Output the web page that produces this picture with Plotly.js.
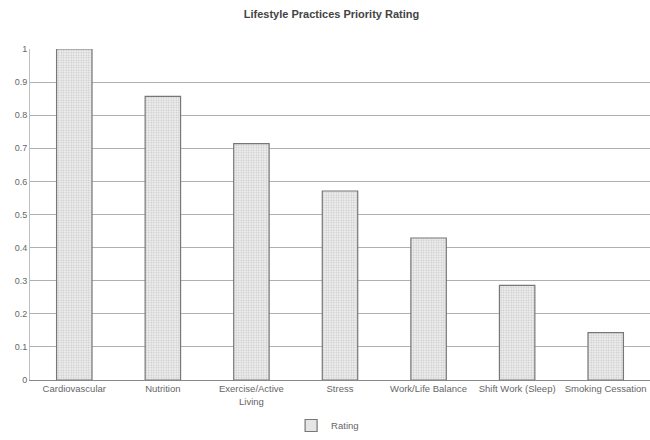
<!DOCTYPE html>
<html><head><meta charset="utf-8">
<script src="https://cdn.plot.ly/plotly-3.0.1.min.js"></script>
<style>html,body{margin:0;padding:0;background:#fff}</style>
</head><body>
<div id="chart" style="width:650px;height:440px"></div>
<script>
const categories = ["Cardiovascular","Nutrition","Exercise/Active<br>Living","Stress","Work/Life Balance","Shift Work (Sleep)","Smoking Cessation"];
const ratings = [1.0, 0.857, 0.714, 0.571, 0.429, 0.286, 0.143];
const yTicks = [0,0.1,0.2,0.3,0.4,0.5,0.6,0.7,0.8,0.9,1];
const yTickText = ["0","0.1","0.2","0.3","0.4","0.5","0.6","0.7","0.8","0.9","1"];

const trace = {
  type: "bar",
  name: "Rating",
  x: categories,
  y: ratings,
  width: 0.4,
  marker: {
    color: "#ececec",
    line: {color: "#777", width: 1.2},
    pattern: {shape: ".", fgcolor: "#c4c4c4", bgcolor: "#efefef", size: 2.5, solidity: 0.3, fillmode: "replace"}
  },
  hoverinfo: "none"
};

const layout = {
  width: 650, height: 440,
  margin: {l: 30, r: 0, t: 49, b: 59},
  paper_bgcolor: "#fff", plot_bgcolor: "#fff",
  font: {family: "Liberation Sans, Arial, sans-serif", color: "#666", size: 9},
  title: {text: "Lifestyle Practices Priority Rating", x: 0.51, xanchor: "center", y: 0.967, yanchor: "middle",
          font: {size: 11, color: "#444", family: "Liberation Sans, Arial, sans-serif", weight: "bold"}},
  xaxis: {
    type: "category", showgrid: false, zeroline: false,
    showline: true, linecolor: "#888", linewidth: 1,
    ticks: "", tickfont: {size: 9.5, color: "#666"}, tickangle: 0, automargin: false
  },
  yaxis: {
    range: [0, 1], tickvals: yTicks, ticktext: yTickText,
    showgrid: true, gridcolor: "#b0b0b0", gridwidth: 1,
    zeroline: false, showline: true, linecolor: "#c0c0c0", linewidth: 1,
    ticks: "", tickfont: {size: 9, color: "#666"}, automargin: false
  },
  showlegend: true,
  legend: {orientation: "h", x: 0.48, xanchor: "center", y: -0.095, yanchor: "top",
           font: {size: 9.5, color: "#666"}, itemwidth: 30, bgcolor: "rgba(0,0,0,0)"},
  bargap: 0.6
};

Plotly.newPlot("chart", [trace], layout, {displayModeBar: false, staticPlot: true});
</script>
</body></html>
